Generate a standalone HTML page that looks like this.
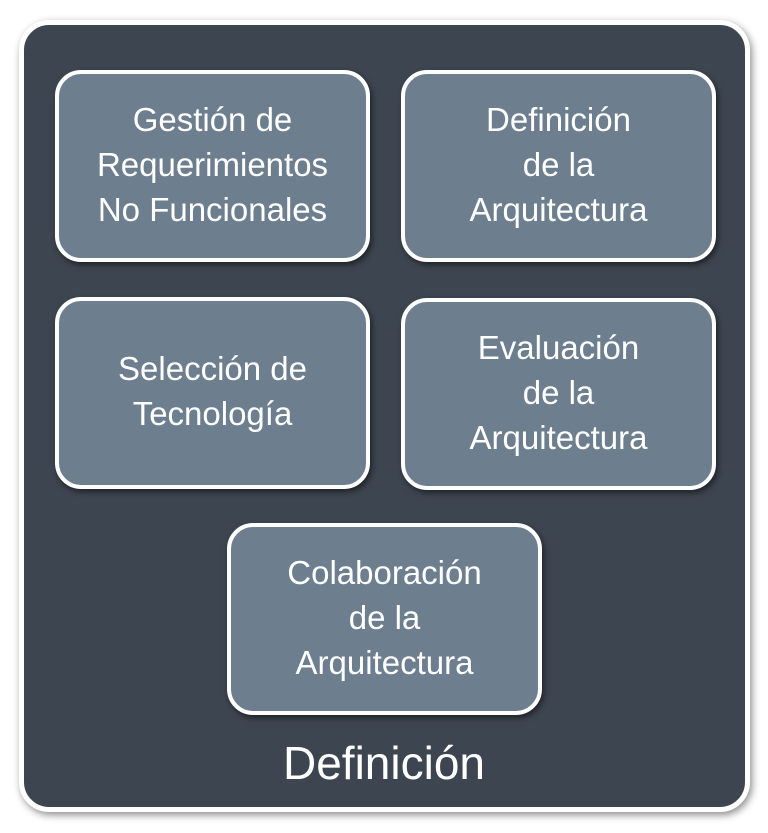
<!DOCTYPE html>
<html><head><style>
body{margin:0;width:768px;height:833px;background:#fff;position:relative;overflow:hidden;font-family:"Liberation Sans",sans-serif}
.outer{position:absolute;left:19px;top:20px;width:721px;height:782px;background:#3d4550;border:5px solid #fff;border-radius:30px;box-shadow:2px 3px 8px rgba(0,0,0,0.45)}
.b{position:absolute;width:307px;height:180px;padding-bottom:4px;background:#6d7e8f;border:4px solid #fff;border-radius:26px;box-shadow:2px 3px 6px rgba(0,0,0,0.5);color:#fff;font-size:33px;line-height:45px;display:flex;align-items:center;justify-content:center;text-align:center}
.t{position:absolute;left:0;width:768px;top:736px;text-align:center;color:#fff;font-size:46px}
</style></head><body>
<div class="outer"></div>
<div class="b" style="left:55px;top:70px">Gestión de<br>Requerimientos<br>No Funcionales</div>
<div class="b" style="left:401px;top:70px">Definición<br>de la<br>Arquitectura</div>
<div class="b" style="left:55px;top:297px">Selección de<br>Tecnología</div>
<div class="b" style="left:401px;top:298px">Evaluación<br>de la<br>Arquitectura</div>
<div class="b" style="left:227px;top:523px">Colaboración<br>de la<br>Arquitectura</div>
<div class="t">Definición</div>
</body></html>
